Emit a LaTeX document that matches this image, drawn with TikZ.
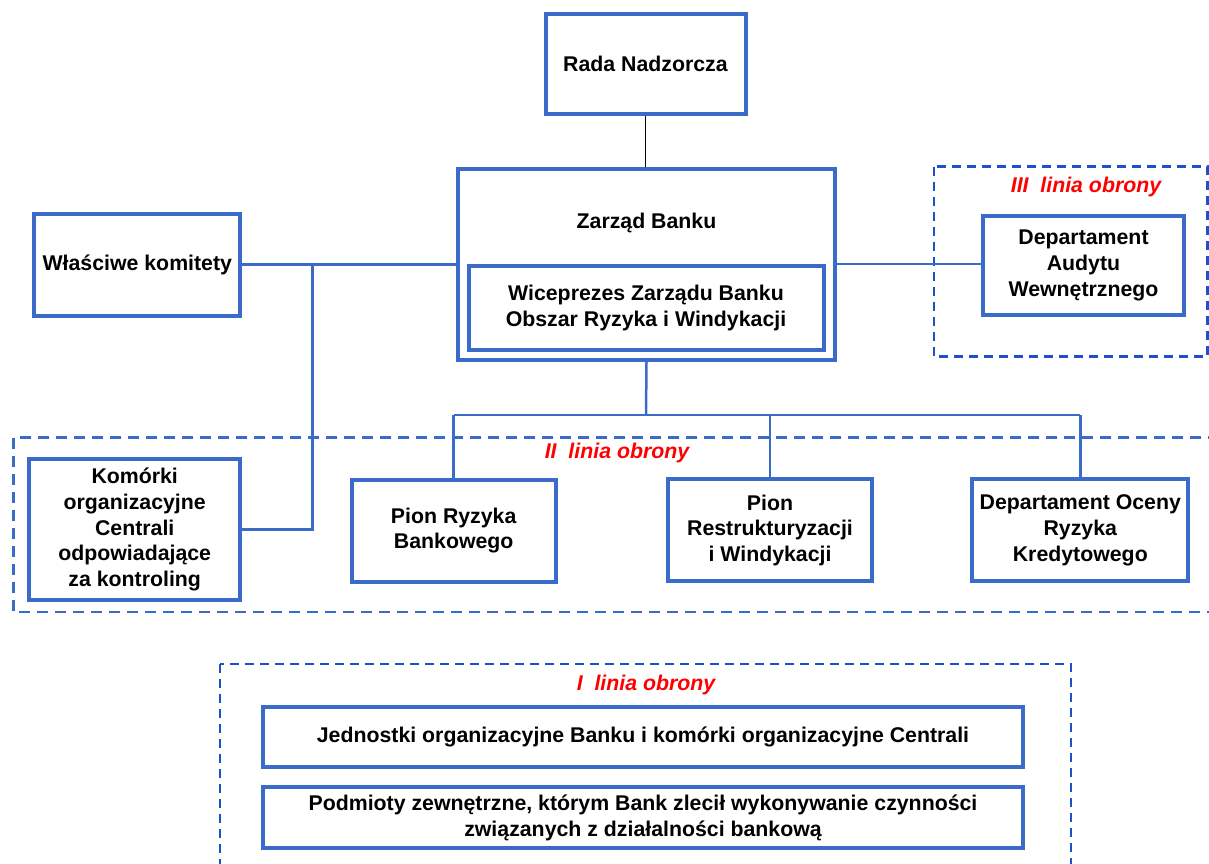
\documentclass[tikz,border=0pt]{standalone}
\usepackage{fontspec}
\setmainfont{Liberation Sans}
\definecolor{boxblue}{RGB}{59,107,201}
\definecolor{dashblue}{RGB}{30,80,205}

\begin{document}
\begin{tikzpicture}[x=1pt, y=-1pt, semithick,
  orgbox/.style={draw=boxblue, line width=4pt, fill=white, inner sep=0pt, align=center,
    font=\fontsize{21.3}{25.7}\selectfont\bfseries},
  conn/.style={draw=boxblue, line width=2.5pt},
  linebox/.style={draw=dashblue, line width=2.7pt, dash pattern=on 9pt off 6pt},
  lineboxii/.style={draw=boxblue, line width=2.5pt, dash pattern=on 11pt off 7pt},
  obrona/.style={text=red, inner sep=0pt, font=\fontsize{21.3}{25.7}\selectfont\bfseries\itshape}]
  \useasboundingbox (0,0) rectangle (1209,863);
  \clip (0,0) rectangle (1209,863);
  % linie obrony
  \draw[lineboxii] (13.3,437.7) rectangle (1225,612);
  \draw[linebox] (934,166.7) rectangle (1207.3,356.7);
  \draw[linebox] (220,664) rectangle (1071,880);
  \node[obrona] (linia3) at (1086,187) {III\ \ linia obrony};
  \node[obrona] (linia2) at (617,453) {II\ \ linia obrony};
  \node[obrona] (linia1) at (646,685) {I\ \ linia obrony};
  % komorki
  \node[orgbox, minimum width=200pt, minimum height=100pt] (rada) at (645.5,64) {Rada Nadzorcza};
  \node[orgbox, minimum width=377pt, minimum height=191pt,
    label={[anchor=center, yshift=-56pt, font=\fontsize{21.3}{25.7}\selectfont\bfseries]north:Zarząd Banku}]
    (zarzad) at (646.5,264) {};
  \node[orgbox, minimum width=355pt, minimum height=84pt] (wice) at (646,308)
    {Wiceprezes Zarządu Banku\\Obszar Ryzyka i Windykacji};
  \node[orgbox, minimum width=206pt, minimum height=102pt] (komitety) at (137.3,264.5) {Właściwe komitety};
  \node[orgbox, minimum width=211pt, minimum height=141pt] (komorki) at (134.7,529.5)
    {Komórki\\organizacyjne\\Centrali\\odpowiadające\\za kontroling};
  \node[orgbox, minimum width=201pt, minimum height=99pt] (audyt) at (1083.5,265.3)
    {Departament\\Audytu\\Wewnętrznego};
  \node[orgbox, minimum width=204pt, minimum height=102pt] (pionryz) at (453.7,530.5)
    {Pion Ryzyka\\Bankowego};
  \node[orgbox, minimum width=203.4pt, minimum height=102pt] (pionres) at (770,530.3)
    {Pion\\Restrukturyzacji\\i Windykacji};
  \node[orgbox, minimum width=216pt, minimum height=102pt] (ocena) at (1080.3,530.3)
    {Departament Oceny\\Ryzyka\\Kredytowego};
  \node[orgbox, minimum width=760.6pt, minimum height=60pt] (jedn) at (643,736.7)
    {Jednostki organizacyjne Banku i komórki organizacyjne Centrali};
  \node[orgbox, minimum width=760.6pt, minimum height=61pt] (podm) at (643,817.8)
    {Podmioty zewnętrzne, którym Bank zlecił wykonywanie czynności\\związanych z działalności bankową};
  % polaczenia
  \coordinate (kj) at (312.3,264);
  \coordinate (bus) at (646,415);
  \draw[line width=1.3pt] (rada.south) -- (rada.south |- zarzad.north);
  \draw[conn] (komitety.east) -- (komitety.east -| zarzad.west);
  \draw[conn] (komorki.east) -| (kj);
  \draw[conn] (zarzad.east) -- (zarzad.east -| audyt.west);
  \draw[conn] (zarzad.south) -- (bus);
  \draw[conn] (pionryz.north |- bus) -- (ocena.north |- bus);
  \foreach \n in {pionryz,pionres,ocena}
    \draw[conn] (\n.north) -- (\n.north |- bus);
\end{tikzpicture}
\end{document}
